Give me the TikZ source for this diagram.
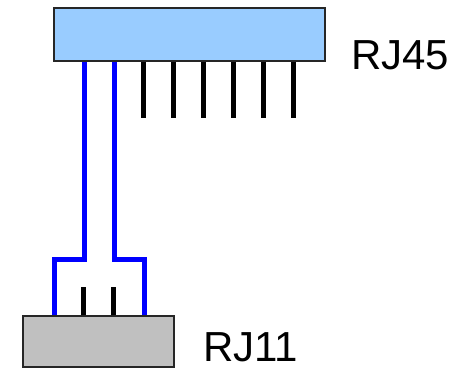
\documentclass[tikz,border=0pt]{standalone}
\usepackage{fontspec}
\setmainfont{Liberation Sans}
\usepackage{tikz}

\definecolor{plugblue}{HTML}{99CCFF}
\definecolor{pluggray}{HTML}{C0C0C0}

\tikzset{
    plug/.style={draw=black!85, line width=1.5pt, inner sep=0pt},
    pin/.style={line width=5pt, black},
    wire/.style={line width=5pt, blue},
    plugname/.style={font=\fontsize{42}{50}\selectfont, inner sep=0pt, text depth=0pt, anchor=base west}
}

\begin{document}
\begin{tikzpicture}[x=1pt,y=-1pt]
        \useasboundingbox (0,0) rectangle (452,368);

        % Wires from the big plug to the small one
        \draw[wire] (84,61) -- (84,259) -| (54,316);
        \draw[wire] (114,61) -- (114,259) -| (144,316);

        % RJ45 on top
        \node[plug, fill=plugblue, minimum width=271pt, minimum height=53pt] (rj45) at (189.5,34.5) {};
        \foreach \i in {0,...,5}
            \draw[pin] ([xshift=90pt+30pt*\i]rj45.south west) -- ++(0,56);
        \node[plugname] (rj45name) at (351,69) {RJ45};

        % RJ11 at the bottom
        \node[plug, fill=pluggray, minimum width=151pt, minimum height=51pt] (rj11) at (98.5,341.5) {};
        \draw[pin] ([xshift=61pt]rj11.north west) -- ++(0,-28);
        \draw[pin] ([xshift=91pt]rj11.north west) -- ++(0,-28);
        \node[plugname] (rj11name) at (203,361) {RJ11};
    \end{tikzpicture}
\end{document}
